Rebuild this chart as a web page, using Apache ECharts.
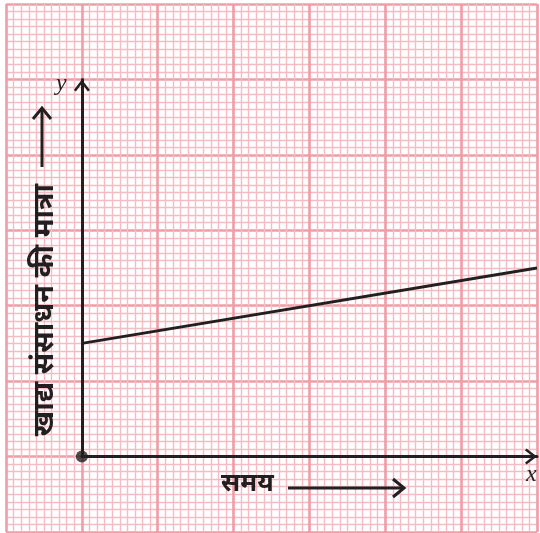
<!DOCTYPE html>
<html>
<head>
<meta charset="utf-8">
<script src="https://cdn.jsdelivr.net/npm/echarts@6/dist/echarts.min.js"></script>
<style>
  html, body { margin: 0; padding: 0; background: #fff; }
  #chart { width: 540px; height: 533px; }
</style>
</head>
<body>
<div id="chart"></div>
<script>
    // graph paper range (grid units, 10 = one big square)
    var paperX = [-10, 60];
    var paperY = [-10, 60];
    // axes
    var axisX = [0, 60];
    var axisY = [0, 50];
    // food resource line
    var lineData = [[0, 15], [60, 25]];
    var originPoint = [[0, 0]];

    var yTitle = 'खाद्य संसाधन की मात्रा';
    var xTitle = 'समय';

    var major = '#f09ca6';
    var minor = '#f6bcc4';
    var ink = '#231f20';
    var chevron = 'path://M0,10.5 L8,0 L16,10.5 L14,12 L8,4 L2,12 Z';

    var chart = echarts.init(document.getElementById('chart'));
    var option = {
        animation: false,
        grid: [
            {left: 6, right: 3, top: 4, bottom: 1},
            {left: 81.86, right: 3, top: 79.43, bottom: 76.43}
        ],
        xAxis: [
            {
                gridIndex: 0, type: 'value', min: paperX[0], max: paperX[1], interval: 10,
                axisLine: {show: false}, axisTick: {show: false}, axisLabel: {show: false},
                splitLine: {show: true, lineStyle: {color: major, width: 2.6}},
                minorTick: {show: false, splitNumber: 10},
                minorSplitLine: {show: true, lineStyle: {color: minor, width: 1.4}}
            },
            {
                gridIndex: 1, type: 'value', min: axisX[0], max: axisX[1],
                axisLine: {
                    show: true, onZero: false,
                    lineStyle: {color: ink, width: 3},
                    symbol: ['none', chevron],
                    symbolSize: [16, 12],
                    symbolOffset: [0, -6]
                },
                axisTick: {show: false}, axisLabel: {show: false}, splitLine: {show: false}
            }
        ],
        yAxis: [
            {
                gridIndex: 0, type: 'value', min: paperY[0], max: paperY[1], interval: 10,
                axisLine: {show: false}, axisTick: {show: false}, axisLabel: {show: false},
                splitLine: {show: true, lineStyle: {color: major, width: 2.6}},
                minorTick: {show: false, splitNumber: 10},
                minorSplitLine: {show: true, lineStyle: {color: minor, width: 1.4}}
            },
            {
                gridIndex: 1, type: 'value', min: axisY[0], max: axisY[1],
                axisLine: {
                    show: true, onZero: false,
                    lineStyle: {color: ink, width: 3},
                    symbol: ['none', chevron],
                    symbolSize: [16, 12],
                    symbolOffset: [0, -6]
                },
                axisTick: {show: false}, axisLabel: {show: false}, splitLine: {show: false}
            }
        ],
        series: [
            {
                type: 'line',
                xAxisIndex: 1, yAxisIndex: 1,
                data: lineData,
                symbol: 'none',
                clip: false,
                lineStyle: {color: ink, width: 2.8}
            },
            {
                type: 'scatter',
                xAxisIndex: 1, yAxisIndex: 1,
                data: originPoint,
                symbolSize: 12,
                itemStyle: {color: ink},
                z: 10
            }
        ],
        graphic: [
            {
                type: 'text', left: 56, top: 72, z: 100,
                style: {text: 'y', font: 'italic 24px "Liberation Serif", serif', fill: ink}
            },
            {
                type: 'text', left: 526, top: 463, z: 100,
                style: {text: 'x', font: 'italic 24px "Liberation Serif", serif', fill: ink}
            },
            {
                type: 'text', x: 45, y: 310, rotation: Math.PI / 2, z: 100,
                style: {
                    text: yTitle, font: 'bold 29px "Noto Sans", sans-serif', fill: ink,
                    align: 'center', verticalAlign: 'middle'
                }
            },
            {
                type: 'line', z: 100,
                shape: {x1: 42, y1: 167, x2: 42, y2: 110},
                style: {stroke: ink, lineWidth: 3}
            },
            {
                type: 'polyline', z: 100,
                shape: {points: [[33, 119], [42, 108], [51, 119]]},
                style: {stroke: ink, lineWidth: 3, fill: null}
            },
            {
                type: 'text', left: 221, top: 471, z: 100,
                style: {text: xTitle, font: 'bold 26px "Noto Sans", sans-serif', fill: ink}
            },
            {
                type: 'line', z: 100,
                shape: {x1: 288, y1: 488, x2: 402, y2: 488},
                style: {stroke: ink, lineWidth: 3}
            },
            {
                type: 'polyline', z: 100,
                shape: {points: [[393, 479], [404, 488], [393, 497]]},
                style: {stroke: ink, lineWidth: 3, fill: null}
            }
        ]
    };
    chart.setOption(option);
</script>
</body>
</html>
